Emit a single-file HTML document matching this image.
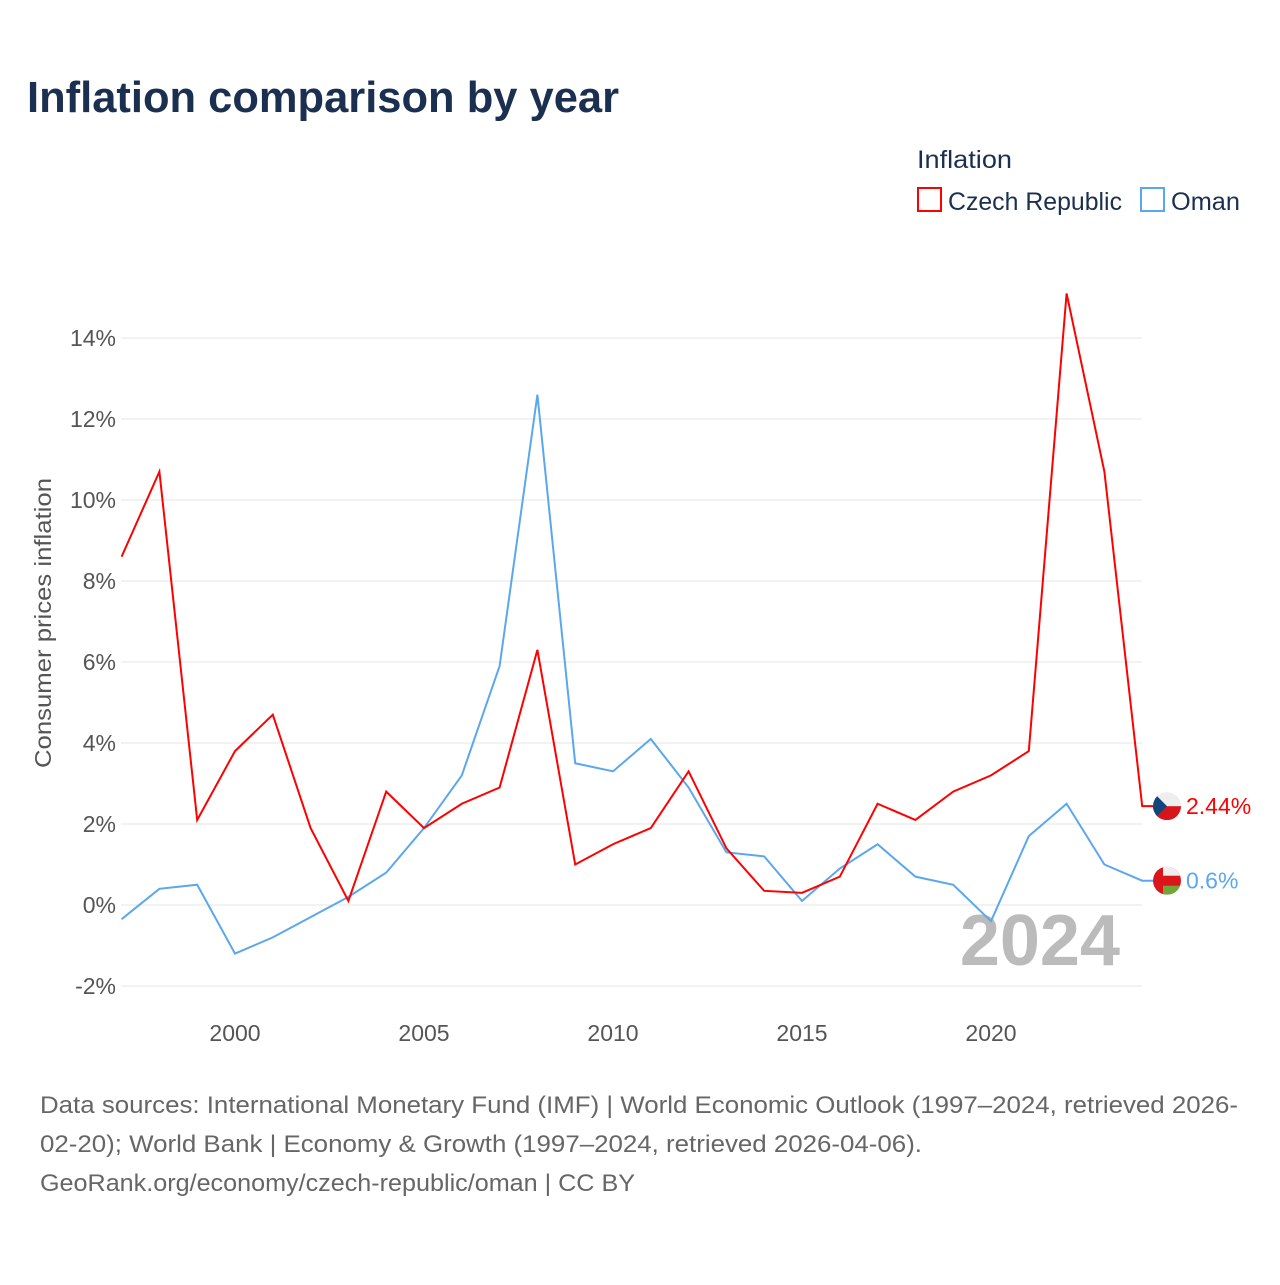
<!DOCTYPE html>
<html><head><meta charset="utf-8"><style>
body{margin:0;background:#fff;font-family:"Liberation Sans",sans-serif;}
svg text{font-family:"Liberation Sans",sans-serif;}
</style></head><body>
<svg width="1280" height="1280" viewBox="0 0 1280 1280" id="svg">
<rect width="1280" height="1280" fill="#fff"/>
<text x="27" y="112" font-size="44" font-weight="bold" fill="#1b3050" textLength="592" lengthAdjust="spacingAndGlyphs">Inflation comparison by year</text>
<text x="917" y="168" font-size="25" fill="#1b3050" textLength="95" lengthAdjust="spacingAndGlyphs">Inflation</text>
<g><rect x="918" y="188" width="23" height="23" fill="none" stroke="#f00" stroke-width="2"/><text x="948" y="210" font-size="25" fill="#1b3050" textLength="174" lengthAdjust="spacingAndGlyphs">Czech Republic</text></g>
<g><rect x="1141" y="188" width="23" height="23" fill="none" stroke="#5ba7ee" stroke-width="2"/><text x="1171" y="210" font-size="25" fill="#1b3050" textLength="69" lengthAdjust="spacingAndGlyphs">Oman</text></g>
<g id="grid"></g><g id="xt"></g>
<text transform="translate(51,623) rotate(-90)" text-anchor="middle" font-size="23" fill="#555" textLength="290" lengthAdjust="spacingAndGlyphs">Consumer prices inflation</text>
<text x="1120" y="965" text-anchor="end" font-size="72" font-weight="bold" fill="#bbb">2024</text>
<g id="lines"></g>
<g font-size="24" fill="#666">
<text x="40" y="1113" textLength="1198" lengthAdjust="spacingAndGlyphs">Data sources: International Monetary Fund (IMF) | World Economic Outlook (1997–2024, retrieved 2026-</text>
<text x="40" y="1152" textLength="882" lengthAdjust="spacingAndGlyphs">02-20); World Bank | Economy &amp; Growth (1997–2024, retrieved 2026-04-06).</text>
<text x="40" y="1191" textLength="595" lengthAdjust="spacingAndGlyphs">GeoRank.org/economy/czech-republic/oman | CC BY</text>
</g>
</svg>
<script>
const years=[1997,1998,1999,2000,2001,2002,2003,2004,2005,2006,2007,2008,2009,2010,2011,2012,2013,2014,2015,2016,2017,2018,2019,2020,2021,2022,2023,2024];
const czech=[8.6,10.7,2.1,3.8,4.7,1.9,0.1,2.8,1.9,2.5,2.9,6.3,1.0,1.5,1.9,3.3,1.4,0.35,0.3,0.7,2.5,2.1,2.8,3.2,3.8,15.1,10.7,2.44];
const oman=[-0.35,0.4,0.5,-1.2,-0.8,-0.3,0.2,0.8,1.9,3.2,5.9,12.6,3.5,3.3,4.1,2.9,1.3,1.2,0.1,0.9,1.5,0.7,0.5,-0.4,1.7,2.5,1.0,0.6];
const yTicks=[-2,0,2,4,6,8,10,12,14];
const xTicks=[2000,2005,2010,2015,2020];
const NS="http://www.w3.org/2000/svg";
const X=y=>235+(y-2000)*37.8, Y=v=>905-v*40.5;
function mk(t,a,p){const e=document.createElementNS(NS,t);for(const k in a)e.setAttribute(k,a[k]);p.appendChild(e);return e;}
const grid=document.getElementById('grid'),xt=document.getElementById('xt'),lines=document.getElementById('lines');
const svg=document.getElementById('svg');
const defs=mk('defs',{},svg);
yTicks.forEach(v=>{
 const l=mk('line',{x1:121,x2:1142,y1:Y(v),y2:Y(v),stroke:'#e6e6e6','stroke-width':1},grid);
 
 
 const t=mk('text',{x:116,y:Y(v)+8,'text-anchor':'end','font-size':23,fill:'#555'},grid);
 t.textContent=v+'%';
 
 
});
xTicks.forEach(v=>{
 const t=mk('text',{x:X(v),y:1041,'text-anchor':'middle','font-size':23,fill:'#555'},xt);
 t.textContent=v;
 
 
});
function series(vals,col,name,label){
 let d=vals.map((v,i)=>(i?'L':'M')+X(years[i])+' '+Y(v)).join(' ');
 const last=vals[vals.length-1];
 d+=' L1155 '+Y(last);
 const p=mk('path',{d:d,fill:'none',stroke:col,'stroke-width':2},lines);
 
 
 const cy=Y(last),cx=1167;
 const cp=mk('clipPath',{id:'cp'+name},defs);
 mk('circle',{cx:cx,cy:cy,r:14},cp);
 const g=mk('g',{'clip-path':'url(#cp'+name+')'},lines);
 
 
 if(name==='czech'){
  mk('rect',{x:cx-14,y:cy-14,width:28,height:14,fill:'#eee'},g);
  mk('rect',{x:cx-14,y:cy,width:28,height:14,fill:'#d7141a'},g);
  mk('path',{d:`M${cx-14} ${cy-14} L${cx} ${cy} L${cx-14} ${cy+14} Z`,fill:'#11457e'},g);
 } else {
  mk('rect',{x:cx-14,y:cy-14,width:28,height:28,fill:'#db161b'},g);
  mk('rect',{x:cx-4,y:cy-14,width:18,height:9,fill:'#eee'},g);
  mk('rect',{x:cx-4,y:cy+5,width:18,height:9,fill:'#6ea63a'},g);
 }
 const t=mk('text',{x:1186,y:cy+8,'font-size':23,fill:col},lines);
 t.textContent=label;
 
 
}
series(oman,'#5ba7ee','oman','0.6%');
series(czech,'#f00','czech','2.44%');
</script>
</body></html>
